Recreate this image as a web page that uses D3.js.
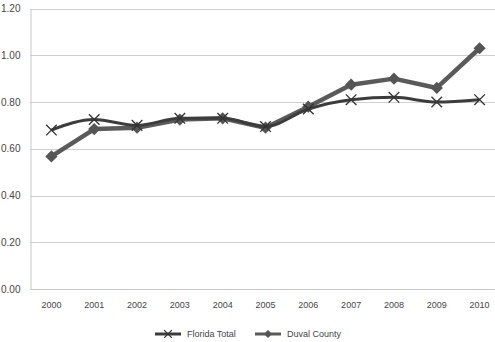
<!DOCTYPE html>
<html>
<head>
<meta charset="utf-8">
<script src="https://cdn.jsdelivr.net/npm/d3@7"></script>
<style>
  html, body { margin: 0; padding: 0; background: #fff; }
  svg { display: block; }
  text { font-family: "Liberation Sans", "DejaVu Sans", sans-serif; fill: #404040; }
</style>
</head>
<body>
<svg id="chart" width="495" height="342"></svg>
<script>
// Ratios by year, 2000–2010
const years = ["2000","2001","2002","2003","2004","2005","2006","2007","2008","2009","2010"];
const floridaTotal = [0.68, 0.725, 0.70, 0.73, 0.73, 0.695, 0.77, 0.81, 0.82, 0.80, 0.81];
const duvalCounty  = [0.567, 0.684, 0.69, 0.725, 0.73, 0.69, 0.78, 0.874, 0.90, 0.86, 1.03];
const yTicks = [0, 0.2, 0.4, 0.6, 0.8, 1.0, 1.2];
const seriesNames = ["Florida Total", "Duval County"];

(function () {
  const svg = d3.select("#chart");
  const plotLeft = 30, plotRight = 501, plotTop = 8.5, plotBottom = 289;

  const x = d3.scaleBand().domain(years).range([plotLeft, plotRight]);
  const y = d3.scaleLinear().domain([0, 1.2]).range([plotBottom, plotTop]);
  const cx = d => x(d) + x.bandwidth() / 2;

  // Horizontal gridlines
  svg.append("g")
    .selectAll("line")
    .data(yTicks.slice(1))
    .join("line")
    .attr("x1", plotLeft).attr("x2", 495)
    .attr("y1", d => Math.round(y(d)) + 0.5).attr("y2", d => Math.round(y(d)) + 0.5)
    .attr("stroke", "#cfcfcf").attr("stroke-width", 1);

  // Y axis
  const yAxis = svg.append("g")
    .attr("transform", `translate(${plotLeft + 0.5},0)`)
    .call(d3.axisLeft(y).tickValues(yTicks).tickFormat(d3.format(".2f")).tickSize(0).tickPadding(10));
  yAxis.select(".domain").attr("stroke", "#c8c8c8");
  yAxis.selectAll("text").attr("font-size", 10).style("fill", "#454545");

  // X axis
  const xAxis = svg.append("g")
    .attr("transform", `translate(0,${Math.round(plotBottom) + 0.5})`)
    .call(d3.axisBottom(x).tickSize(0).tickPadding(12));
  xAxis.select(".domain").attr("stroke", "#c8c8c8").attr("d", `M${plotLeft},0H495`);
  xAxis.selectAll("text").attr("font-size", 9).style("fill", "#454545");

  // Duval County line with diamond markers
  const duvalPts = years.map((yr, i) => [cx(yr), y(duvalCounty[i])]);
  svg.append("path")
    .attr("d", d3.line()(duvalPts))
    .attr("fill", "none").attr("stroke", "#5a5a5a").attr("stroke-width", 4.5)
    .attr("stroke-linejoin", "round");
  svg.append("g")
    .selectAll("path")
    .data(duvalPts)
    .join("path")
    .attr("transform", d => `translate(${d[0]},${d[1]})`)
    .attr("d", d3.symbol(d3.symbolDiamond2, 95)())
    .attr("fill", "#555");

  // Florida Total line with x markers
  const floridaPts = years.map((yr, i) => [cx(yr), y(floridaTotal[i])]);
  svg.append("path")
    .attr("d", d3.line().curve(d3.curveMonotoneX)(floridaPts))
    .attr("fill", "none").attr("stroke", "#3c3c3c").attr("stroke-width", 3)
    .attr("stroke-linejoin", "round");
  svg.append("g")
    .selectAll("path")
    .data(floridaPts)
    .join("path")
    .attr("transform", d => `translate(${d[0]},${d[1]})`)
    .attr("d", d3.symbol(d3.symbolX, 75)())
    .attr("fill", "none").attr("stroke", "#333").attr("stroke-width", 1.3);

  // Legend
  const legend = svg.append("g").attr("transform", "translate(0,334)");
  const legendItems = [
    { name: seriesNames[0], x0: 155, sym: d3.symbolX, color: "#3c3c3c" },
    { name: seriesNames[1], x0: 255, sym: d3.symbolDiamond2, color: "#5a5a5a" }
  ];
  legendItems.forEach(it => {
    legend.append("line")
      .attr("x1", it.x0).attr("x2", it.x0 + 26).attr("y1", 0).attr("y2", 0)
      .attr("stroke", it.color).attr("stroke-width", 3);
    const m = legend.append("path")
      .attr("transform", `translate(${it.x0 + 13},0)`)
      .attr("d", d3.symbol(it.sym, 40)());
    if (it.sym === d3.symbolX) m.attr("fill", "none").attr("stroke", "#333").attr("stroke-width", 1.2);
    else m.attr("fill", "#555");
    legend.append("text")
      .attr("x", it.x0 + 32).attr("y", 0).attr("dy", "0.35em")
      .attr("font-size", 9).style("fill", "#454545").text(it.name);
  });
})();
</script>
</body>
</html>
